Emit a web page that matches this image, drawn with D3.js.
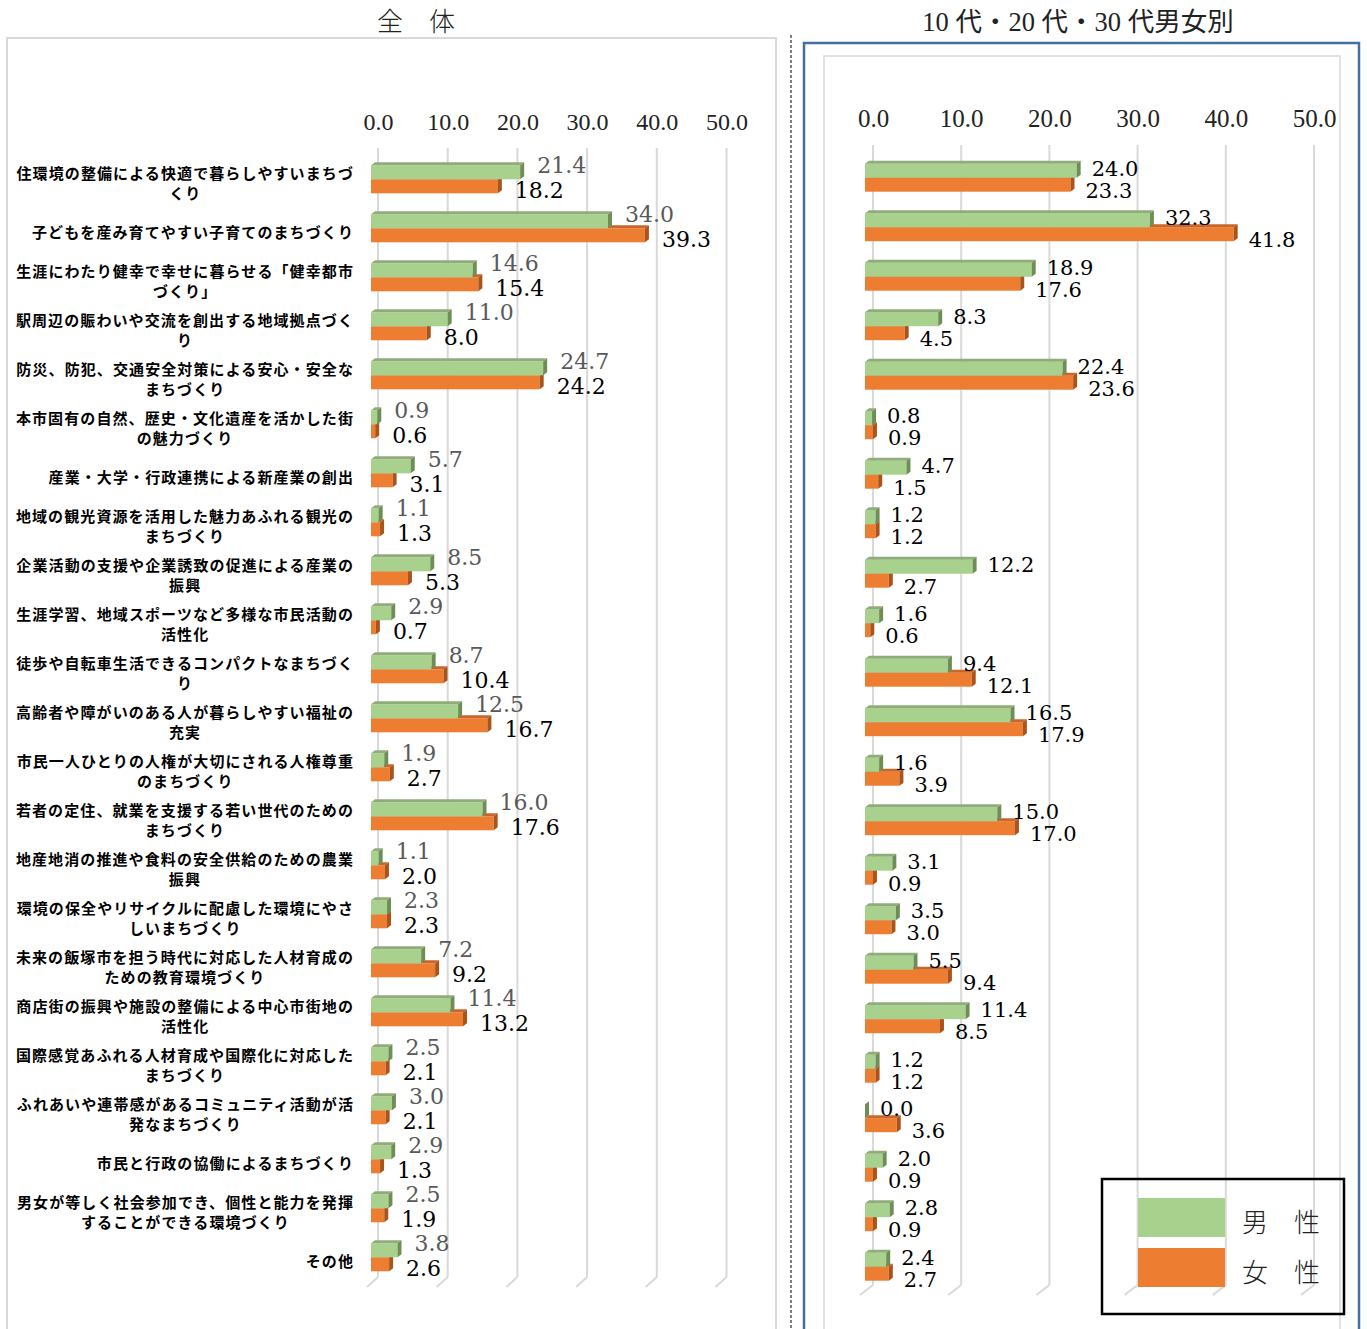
<!DOCTYPE html>
<html><head><meta charset="utf-8">
<script src="https://cdn.jsdelivr.net/npm/d3@7/dist/d3.min.js"></script>
<style>
html,body{margin:0;padding:0;background:#fff;}
svg{display:block;}
</style></head>
<body>
<svg id="chart" width="1367" height="1329"></svg>
<script>
// ---------- data ----------
const categories = [
  "住環境の整備による快適で暮らしやすいまちづくり",
  "子どもを産み育てやすい子育てのまちづくり",
  "生涯にわたり健幸で幸せに暮らせる「健幸都市づくり」",
  "駅周辺の賑わいや交流を創出する地域拠点づくり",
  "防災、防犯、交通安全対策による安心・安全なまちづくり",
  "本市固有の自然、歴史・文化遺産を活かした街の魅力づくり",
  "産業・大学・行政連携による新産業の創出",
  "地域の観光資源を活用した魅力あふれる観光のまちづくり",
  "企業活動の支援や企業誘致の促進による産業の振興",
  "生涯学習、地域スポーツなど多様な市民活動の活性化",
  "徒歩や自転車生活できるコンパクトなまちづくり",
  "高齢者や障がいのある人が暮らしやすい福祉の充実",
  "市民一人ひとりの人権が大切にされる人権尊重のまちづくり",
  "若者の定住、就業を支援する若い世代のためのまちづくり",
  "地産地消の推進や食料の安全供給のための農業振興",
  "環境の保全やリサイクルに配慮した環境にやさしいまちづくり",
  "未来の飯塚市を担う時代に対応した人材育成のための教育環境づくり",
  "商店街の振興や施設の整備による中心市街地の活性化",
  "国際感覚あふれる人材育成や国際化に対応したまちづくり",
  "ふれあいや連帯感があるコミュニティ活動が活発なまちづくり",
  "市民と行政の協働によるまちづくり",
  "男女が等しく社会参加でき、個性と能力を発揮することができる環境づくり",
  "その他"
];
const totalSeries1 = [21.4, 34.0, 14.6, 11.0, 24.7, 0.9, 5.7, 1.1, 8.5, 2.9, 8.7, 12.5, 1.9, 16.0, 1.1, 2.3, 7.2, 11.4, 2.5, 3.0, 2.9, 2.5, 3.8];
const totalSeries2 = [18.2, 39.3, 15.4, 8.0, 24.2, 0.6, 3.1, 1.3, 5.3, 0.7, 10.4, 16.7, 2.7, 17.6, 2.0, 2.3, 9.2, 13.2, 2.1, 2.1, 1.3, 1.9, 2.6];
const youngMale   = [24.0, 32.3, 18.9, 8.3, 22.4, 0.8, 4.7, 1.2, 12.2, 1.6, 9.4, 16.5, 1.6, 15.0, 3.1, 3.5, 5.5, 11.4, 1.2, 0.0, 2.0, 2.8, 2.4];
const youngFemale = [23.3, 41.8, 17.6, 4.5, 23.6, 0.9, 1.5, 1.2, 2.7, 0.6, 12.1, 17.9, 3.9, 17.0, 0.9, 3.0, 9.4, 8.5, 1.2, 3.6, 0.9, 0.9, 2.7];
const tickValues = [0, 10, 20, 30, 40, 50];
const legendLabels = ["男　性", "女　性"];
const titles = ["全　体", "10 代・20 代・30 代男女別"];

// ---------- styles ----------
const GREEN = {front:"#a9d18e", top:"#8fad78", side:"#6f8e57"};
const ORANGE = {front:"#ed7d31", top:"#c96628", side:"#a8541c"};
const GRID = "#d9d9d9";
const JP = "'Noto Sans CJK JP','Noto Sans',sans-serif";
const NUM = "'DejaVu Serif','Liberation Serif',serif";

const svg = d3.select("#chart");

// frames
svg.append("rect").attr("x",7).attr("y",38).attr("width",769).attr("height",1320)
  .attr("fill","none").attr("stroke","#d9d9d9").attr("stroke-width",2);
svg.append("line").attr("x1",791).attr("x2",791).attr("y1",35).attr("y2",1329)
  .attr("stroke","#000").attr("stroke-width",1).attr("stroke-dasharray","3,2");
svg.append("rect").attr("x",804).attr("y",43).attr("width",555).attr("height",1320)
  .attr("fill","none").attr("stroke","#41719c").attr("stroke-width",2.5);
svg.append("rect").attr("x",824).attr("y",56).attr("width",516).attr("height",1320)
  .attr("fill","none").attr("stroke","#d9d9d9").attr("stroke-width",1.5);

// titles
svg.append("text").attr("x",416).attr("y",31).attr("text-anchor","middle")
  .attr("font-family",JP).attr("font-weight",300).attr("font-size",26).attr("fill","#222").text(titles[0]);
svg.append("text").attr("x",1078).attr("y",31).attr("text-anchor","middle")
  .attr("font-family","'Liberation Serif','Noto Sans CJK JP',serif").attr("font-size",26.5).attr("fill","#222").text(titles[1]);

function drawPanel(opt){
  const g = svg.append("g");
  const x = d3.scaleLinear().domain([0,50]).range(opt.xRange);
  const y = d3.scaleBand().domain(categories).range(opt.yRange).padding(0);
  const depth = opt.depth;
  // gridlines (back wall)
  const grid = g.append("g");
  tickValues.forEach(t=>{
    const gx = x(t)+depth;
    grid.append("line").attr("x1",gx).attr("x2",gx).attr("y1",opt.gridTop).attr("y2",opt.gridBottom)
      .attr("stroke",GRID).attr("stroke-width",2);
    grid.append("line").attr("x1",gx).attr("x2",gx-opt.diag[0]).attr("y1",opt.gridBottom).attr("y2",opt.gridBottom+opt.diag[1])
      .attr("stroke",GRID).attr("stroke-width",2);
  });
  // axis labels
  const axis = d3.axisTop(d3.scaleLinear().domain([0,50]).range([opt.xRange[0]+depth, opt.xRange[1]+depth]))
    .tickValues(tickValues).tickFormat(d3.format(".1f")).tickSize(0).tickPadding(0);
  const ag = g.append("g").attr("transform",`translate(0,${opt.axisY})`).call(axis);
  ag.select(".domain").remove();
  ag.selectAll("text").attr("font-family","'Liberation Serif',serif").attr("font-size",opt.tickSize).attr("fill","#222");

  const h = 14, dx = 4, dy = 3;
  function bar(py, v, col){
    const x0 = x(0), x1 = x(v);
    const b = g.append("g");
    b.append("rect").attr("x",x0).attr("y",py).attr("width",Math.max(0,x1-x0)).attr("height",h).attr("fill",col.front);
    b.append("path").attr("d",`M${x0},${py}L${x0+dx},${py-dy}L${x1+dx},${py-dy}L${x1},${py}Z`).attr("fill",col.top);
    b.append("path").attr("d",`M${x1},${py}L${x1+dx},${py-dy}L${x1+dx},${py+h-dy}L${x1},${py+h}Z`).attr("fill",col.side);
  }
  categories.forEach((c,i)=>{
    const cy = y(c) + y.bandwidth()/2;
    bar(cy, opt.s2[i], ORANGE);
    bar(cy-h, opt.s1[i], GREEN);
  });
  // data labels
  categories.forEach((c,i)=>{
    const cy = y(c) + y.bandwidth()/2;
    g.append("text").attr("x",x(opt.s1[i])+opt.labDx).attr("y",cy+opt.off1+8)
      .attr("font-family",NUM).attr("font-size",opt.labSize).attr("fill",opt.col1).text(opt.s1[i].toFixed(1));
    g.append("text").attr("x",x(opt.s2[i])+opt.labDx).attr("y",cy+opt.off2+8)
      .attr("font-family",NUM).attr("font-size",opt.labSize).attr("fill",opt.col2).text(opt.s2[i].toFixed(1));
  });
  // category labels
  if(opt.catLabels){
    const lg = g.append("g").attr("font-family",JP).attr("font-weight",700).attr("font-size",15)
      .attr("letter-spacing",1.1).attr("fill","#000");
    categories.forEach((c,i)=>{
      const cy = y(c) + y.bandwidth()/2 + 3;
      const lines = [];
      for(let k=0;k<c.length;k+=21) lines.push(c.slice(k,k+21));
      const tmp = lg.append("text").text(lines[0]);
      const w = tmp.node().getComputedTextLength(); tmp.remove();
      const cx = opt.labelRight - w/2;
      lines.forEach((ln,j)=>{
        lg.append("text").attr("text-anchor","middle").attr("dominant-baseline","central")
          .attr("x",cx).attr("y",cy + (j-(lines.length-1)/2)*19.5).text(ln);
      });
    });
  }
  return {x,y};
}

drawPanel({xRange:[371,719.5], yRange:[154.8,154.8+49*23], depth:7, gridTop:148, gridBottom:1277, diag:[11,10],
  axisY:130, tickSize:24, s1:totalSeries1, s2:totalSeries2, labDx:17, off1:-14, off2:11, labSize:22,
  col1:"#595959", col2:"#000", catLabels:true, labelRight:354});
drawPanel({xRange:[865,1306], yRange:[177.7-24.75,177.7-24.75+49.5*23], depth:8, gridTop:145, gridBottom:1285, diag:[13,10],
  axisY:127, tickSize:25, s1:youngMale, s2:youngFemale, labDx:15, off1:-10, off2:12, labSize:21,
  col1:"#000", col2:"#000", catLabels:false});

// legend
const leg = svg.append("g");
leg.append("rect").attr("x",1102).attr("y",1179).attr("width",242).attr("height",135)
  .attr("fill","none").attr("stroke","#000").attr("stroke-width",2.5);
[GREEN, ORANGE].forEach((col,i)=>{
  leg.append("rect").attr("x",1138).attr("y",1198+i*50).attr("width",87).attr("height",39).attr("fill",col.front);
  leg.append("text").attr("x",1242).attr("y",1220+i*50).attr("dominant-baseline","central")
    .attr("font-family",JP).attr("font-weight",300).attr("font-size",26).attr("fill","#222").text(legendLabels[i]);
});
</script>
</body></html>
